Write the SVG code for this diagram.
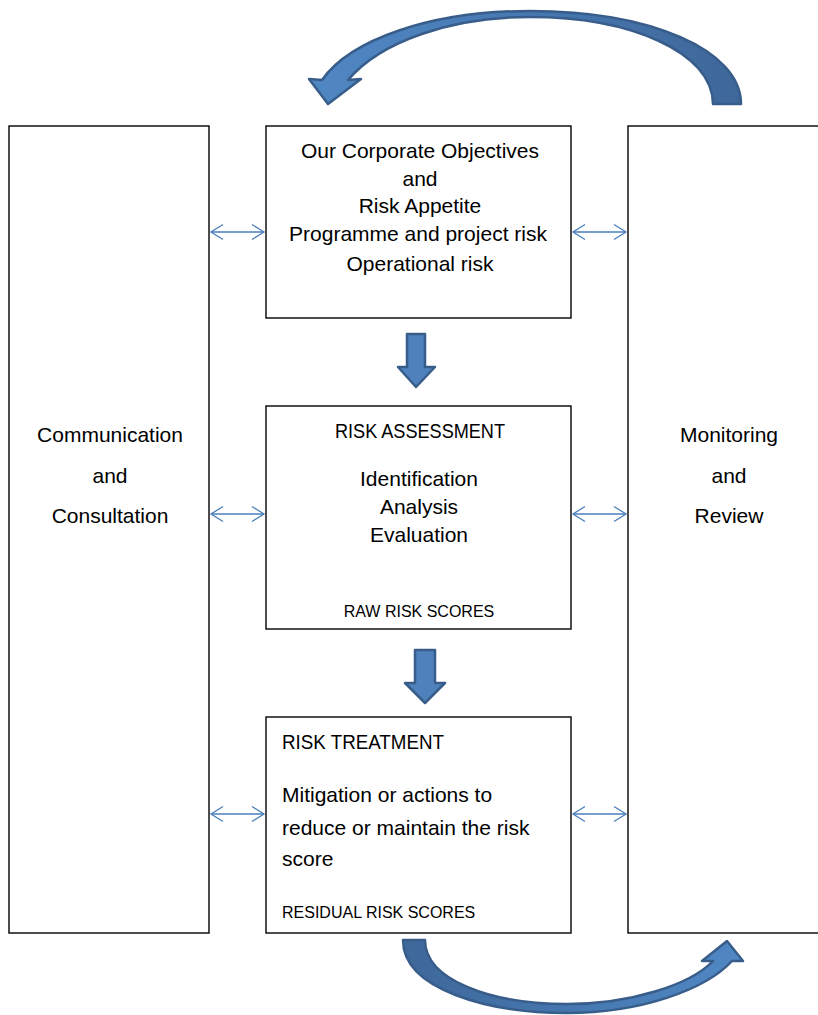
<svg xmlns="http://www.w3.org/2000/svg" width="818" height="1015" viewBox="0 0 818 1015">
<style>
.box{fill:#fff;stroke:#000;stroke-width:1.4}
.t{font-family:"Liberation Sans",Arial,sans-serif;font-size:21px;fill:#000}
.s{font-family:"Liberation Sans",Arial,sans-serif;font-size:16px;fill:#000}
.m{text-anchor:middle}
.dbl{stroke:#4a7ebb;stroke-width:1.3;fill:none;marker-start:url(#ch);marker-end:url(#ch)}
.blk{stroke:#385d8a;stroke-width:2.5;stroke-linejoin:round}
</style>
<defs>
<marker id="ch" markerUnits="userSpaceOnUse" markerWidth="16" markerHeight="20" refX="13" refY="9" orient="auto-start-reverse">
<path d="M1,1.5 L13,9 L1,16.5" fill="none" stroke="#4a7ebb" stroke-width="1.3"/>
</marker>
<linearGradient id="gTop" x1="300" y1="0" x2="745" y2="0" gradientUnits="userSpaceOnUse">
<stop offset="0" stop-color="#5088c4"/>
<stop offset="0.55" stop-color="#4677b0"/>
<stop offset="1" stop-color="#3e6799"/>
</linearGradient>
<linearGradient id="gBot" x1="400" y1="0" x2="745" y2="0" gradientUnits="userSpaceOnUse">
<stop offset="0" stop-color="#3e6799"/>
<stop offset="0.5" stop-color="#4677b0"/>
<stop offset="1" stop-color="#5088c4"/>
</linearGradient>
</defs>

<g id="connectors">
<line class="dbl" x1="211" y1="232" x2="264" y2="232"/>
<line class="dbl" x1="573" y1="232" x2="626" y2="232"/>
<line class="dbl" x1="211" y1="514" x2="264" y2="514"/>
<line class="dbl" x1="573" y1="514" x2="626" y2="514"/>
<line class="dbl" x1="211" y1="814" x2="264" y2="814"/>
<line class="dbl" x1="573" y1="814" x2="626" y2="814"/>
<path class="blk" fill="#4f81bd" d="M407,334 H425 V367 H435 L416,387 L398,367 H407 Z"/>
<path class="blk" fill="#4f81bd" d="M415,650 H435 V683 H445 L425,703 L405,683 H415 Z"/>
<path class="blk" fill="url(#gTop)" d="M741,104 C741,50 650,11 530,11 C430,11 350,40 322,80 L309,79 L328,104 L361,79 L348,80 C380,42 450,17 530,17 C630,17 713,52 713,104 Z"/>
<path class="blk" fill="url(#gBot)" d="M403,940 C403,990 490,1013 567,1013 C640,1013 705,990 732,961 L743,961 L727,941 L702,961 L713,961 C690,985 630,1004 567,1004 C490,1004 425,980 425,940 Z"/>
</g>

<g id="communication">
<rect class="box" x="9" y="126" width="200" height="807"/>
<text class="t m" x="110" y="442">Communication</text>
<text class="t m" x="110" y="483">and</text>
<text class="t m" x="110" y="523">Consultation</text>
</g>

<g id="monitoring">
<rect class="box" x="628" y="126" width="200" height="807"/>
<text class="t m" x="729" y="442">Monitoring</text>
<text class="t m" x="729" y="483">and</text>
<text class="t m" x="729" y="523">Review</text>
</g>

<g id="objectives">
<rect class="box" x="266" y="126" width="305" height="192"/>
<text class="t m" x="420" y="158">Our Corporate Objectives</text>
<text class="t m" x="420" y="186">and</text>
<text class="t m" x="420" y="213">Risk Appetite</text>
<text class="t m" x="418" y="241">Programme and project risk</text>
<text class="t m" x="420" y="271">Operational risk</text>
</g>

<g id="assessment">
<rect class="box" x="266" y="406" width="305" height="223"/>
<text class="t m" x="420" y="438" textLength="170" lengthAdjust="spacingAndGlyphs">RISK ASSESSMENT</text>
<text class="t m" x="419" y="486">Identification</text>
<text class="t m" x="419" y="514">Analysis</text>
<text class="t m" x="419" y="542">Evaluation</text>
<text class="s m" x="419" y="617">RAW RISK SCORES</text>
</g>

<g id="treatment">
<rect class="box" x="266" y="717" width="305" height="216"/>
<text class="t" x="282" y="749" textLength="162" lengthAdjust="spacingAndGlyphs">RISK TREATMENT</text>
<text class="t" x="282" y="802">Mitigation or actions to</text>
<text class="t" x="282" y="835">reduce or maintain the risk</text>
<text class="t" x="282" y="866">score</text>
<text class="s" x="282" y="918">RESIDUAL RISK SCORES</text>
</g>
</svg>
